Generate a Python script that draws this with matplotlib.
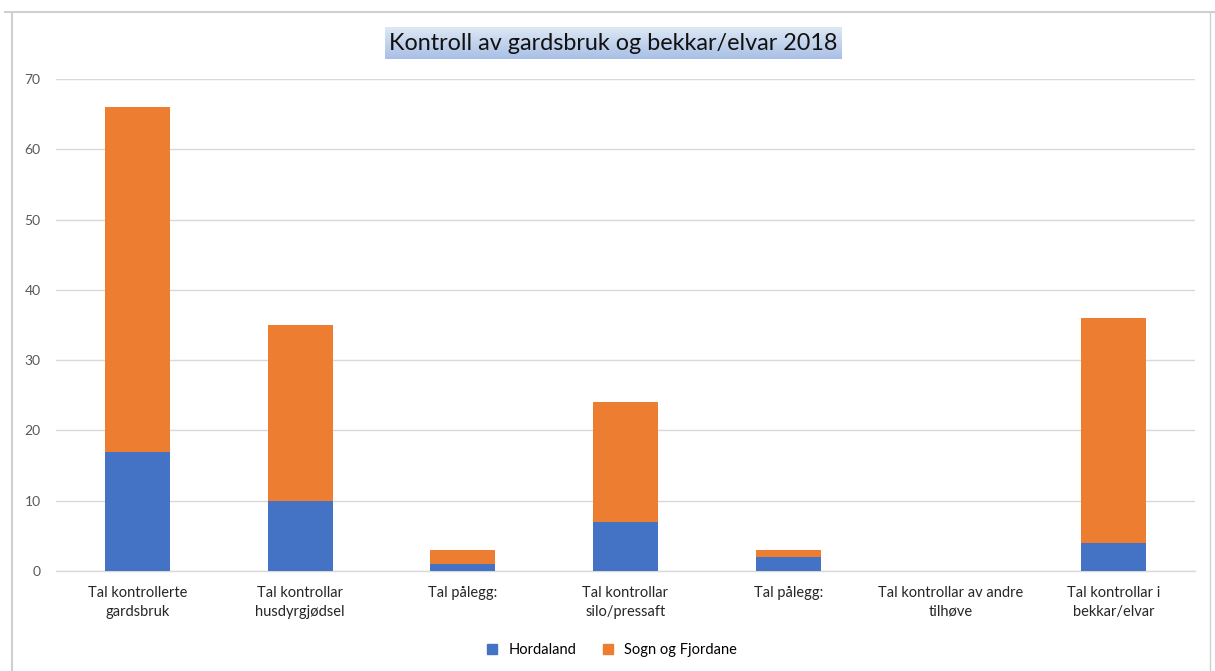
import numpy as np
import matplotlib.pyplot as plt
from matplotlib.lines import Line2D

# data
categories = ["Tal kontrollerte\ngardsbruk", "Tal kontrollar\nhusdyrgjødsel", "Tal pålegg:",
              "Tal kontrollar\nsilo/pressaft", "Tal pålegg:", "Tal kontrollar av andre\ntilhøve",
              "Tal kontrollar i\nbekkar/elvar"]
hordaland = [17, 10, 1, 7, 2, 0, 4]
sogn_fjordane = [49, 25, 2, 17, 1, 0, 32]
yticks = [0, 10, 20, 30, 40, 50, 60, 70]

blue = "#4472c4"
orange = "#ed7d31"
grid = "#d9d9d9"
tick_col = "#595959"

plt.rcParams["font.family"] = ["Lato", "DejaVu Sans"]

fig = plt.figure(figsize=(12.15, 6.71), dpi=100)
ax = fig.add_axes([56 / 1215, 1 - 571 / 671, (1195 - 56) / 1215, (571 - 79) / 671])

x = np.arange(len(categories))
ax.bar(x, hordaland, width=0.4, color=blue, label="Hordaland", zorder=3)
ax.bar(x, sogn_fjordane, width=0.4, bottom=hordaland, color=orange, label="Sogn og Fjordane", zorder=3)

ax.set_xlim(-0.5, len(categories) - 0.5)
ax.set_ylim(0, 70)
ax.set_yticks(yticks)
ax.set_xticks(x)
ax.set_xticklabels(categories, fontsize=10.5, color="#262626", linespacing=1.4)
ax.tick_params(axis="x", length=0, pad=11)
ax.tick_params(axis="y", length=0, pad=11, labelsize=10, labelcolor=tick_col)
ax.yaxis.grid(True, color=grid, linewidth=1, zorder=0)
for s in ["top", "right", "left"]:
    ax.spines[s].set_visible(False)
ax.spines["bottom"].set_color(grid)
ax.spines["bottom"].set_linewidth(1)

# title with a gradient box behind it
tax = fig.add_axes([385 / 1215, 1 - 59 / 671, (842 - 385) / 1215, 32 / 671])
grad = np.linspace(0, 1, 64).reshape(-1, 1)
c_top = np.array([0.87, 0.91, 0.96])
c_bot = np.array([0.66, 0.75, 0.90])
img = c_top[None, None, :] * (1 - grad[:, :, None]) + c_bot[None, None, :] * grad[:, :, None]
tax.imshow(img, aspect="auto", extent=[0, 1, 0, 1])
tax.set_axis_off()
tax.text(0.5, 0.47, "Kontroll av gardsbruk og bekkar/elvar 2018", ha="center", va="center",
         fontsize=16.8, color="#111111", transform=tax.transAxes)

# legend
handles = [Line2D([], [], marker="s", linestyle="", color=blue, markersize=7),
           Line2D([], [], marker="s", linestyle="", color=orange, markersize=7)]
fig.legend(handles, ["Hordaland", "Sogn og Fjordane"], loc="center", bbox_to_anchor=(0.5, 1 - 650 / 671),
           ncol=2, frameon=False, fontsize=10.5, handletextpad=0.1, columnspacing=1.2)

# spreadsheet frame around the chart area
fig.add_artist(Line2D([12 / 1215, 12 / 1215], [0, 1 - 12 / 671], color="#d0d0d0", lw=1.5, transform=fig.transFigure))
fig.add_artist(Line2D([5 / 1215, 1], [1 - 12 / 671, 1 - 12 / 671], color="#d0d0d0", lw=1.5, transform=fig.transFigure))
fig.add_artist(Line2D([1210 / 1215, 1210 / 1215], [0, 1 - 12 / 671], color="#d0d0d0", lw=1, transform=fig.transFigure))

fig.savefig("out.png", dpi=100)
